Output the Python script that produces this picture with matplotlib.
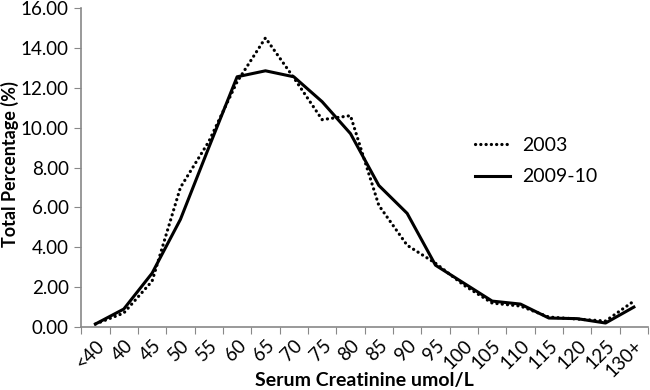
import numpy as np
import matplotlib.pyplot as plt

# categories and series
categories = ['<40', '40', '45', '50', '55', '60', '65', '70', '75', '80',
              '85', '90', '95', '100', '105', '110', '115', '120', '125', '130+']
pct_2003 = [0.15, 0.7, 2.3, 7.0, 9.3, 12.3, 14.5, 12.5, 10.4, 10.6,
            6.1, 4.1, 3.2, 2.1, 1.2, 1.05, 0.5, 0.4, 0.3, 1.3]
pct_2009 = [0.15, 0.9, 2.7, 5.4, 9.0, 12.55, 12.85, 12.55, 11.3, 9.7,
            7.1, 5.7, 3.1, 2.2, 1.3, 1.15, 0.45, 0.42, 0.2, 1.0]

plt.rcParams['font.family'] = ['Lato', 'DejaVu Sans']

fig = plt.figure(figsize=(6.5, 3.9), dpi=100)
ax = fig.add_axes([0.125, 0.1615, 0.872, 0.818])

x = np.arange(len(categories))
ax.plot(x, pct_2003, color='black', lw=2.3, linestyle=(0, (0.05, 1.6)),
        dash_capstyle='round', label='2003')
ax.plot(x, pct_2009, color='black', lw=2.2, label='2009-10')

ax.set_xlim(-0.5, len(categories) - 0.5)
ax.set_ylim(0, 16)
ax.set_yticks(np.arange(0, 17, 2))
ax.set_yticklabels([f'{v:.2f}' for v in np.arange(0, 17, 2)], fontsize=13.5)

# ticks between categories, labels at centres
ax.set_xticks(np.arange(len(categories) + 1) - 0.5)
ax.set_xticklabels([])
ax.set_xticks(x, minor=True)
ax.set_xticklabels(categories, minor=True, rotation=45, ha='right',
                   rotation_mode='anchor', fontsize=13.5)
ax.tick_params(axis='x', which='minor', length=0, pad=7)
ax.tick_params(axis='x', which='major', length=5, color='#888888')
ax.tick_params(axis='y', length=5, color='#888888', pad=4)

for s in ['top', 'right']:
    ax.spines[s].set_visible(False)
for s in ['left', 'bottom']:
    ax.spines[s].set_color('#888888')
    ax.spines[s].set_linewidth(1.2)

ax.set_ylabel('Total Percentage (%)', fontsize=13, fontweight='bold', va='center')
ax.yaxis.set_label_coords(-0.125, 0.511)
ax.set_xlabel('Serum Creatinine umol/L', fontsize=14, fontweight='bold', va='center')
ax.xaxis.set_label_coords(0.5, -0.168)

fig.legend(loc='upper left', bbox_to_anchor=(0.731, 0.649), frameon=False,
           fontsize=14, handlelength=1.8, handletextpad=0.6, labelspacing=0.75,
           borderpad=0, borderaxespad=0)

fig.savefig('out.png', dpi=100)
